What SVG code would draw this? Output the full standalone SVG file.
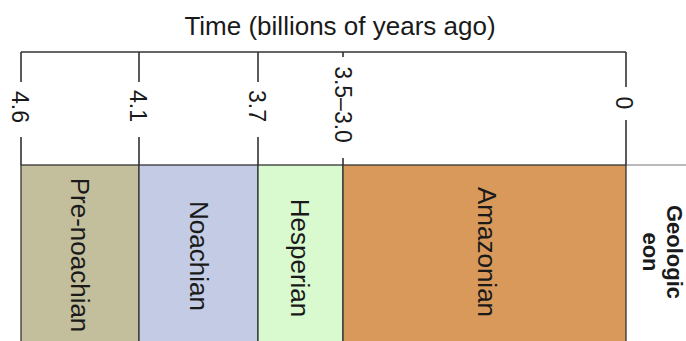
<svg xmlns="http://www.w3.org/2000/svg" width="686" height="341" viewBox="0 0 686 341">
<style>
text{font-family:"Liberation Sans",Arial,Helvetica,sans-serif;fill:#1a1a1a}
.title{font-size:26px}
.tick{font-size:23px}
.eon{font-size:26px}
.hdr{font-size:22px;font-weight:bold}
.ax{stroke:#333;stroke-width:1.6;fill:none}
.box{stroke:#333;stroke-width:1.3}
</style>
<rect width="686" height="341" fill="#fff"/>
<g id="title"><text class="title" x="340" y="35" text-anchor="middle">Time (billions of years ago)</text></g>
<g id="connectors">
<path class="ax" d="M21,52H626"/>
<path class="ax" d="M21,52V82M21,137V165"/>
<path class="ax" d="M139,52V82M139,137V165"/>
<path class="ax" d="M258,52V82M258,137V165"/>
<path class="ax" d="M343,52V57M343,158V165"/>
<path class="ax" d="M626,52V87M626,120V165"/>
<path d="M626,165H686" stroke="#777" stroke-width="1.2"/>
</g>
<g id="ticks">
<text class="tick" transform="translate(12,107) rotate(90)" text-anchor="middle">4.6</text>
<text class="tick" transform="translate(130,106) rotate(90)" text-anchor="middle">4.1</text>
<text class="tick" transform="translate(249,106) rotate(90)" text-anchor="middle">3.7</text>
<text class="tick" transform="translate(335,104.5) rotate(90)" text-anchor="middle">3.5–3.0</text>
<text class="tick" transform="translate(616,103) rotate(90)" text-anchor="middle">0</text>
</g>
<g id="pre-noachian">
<rect class="box" x="21" y="165" width="118" height="182" fill="#c3bf9d"/>
<text class="eon" transform="translate(70.7,255) rotate(90)" text-anchor="middle">Pre-noachian</text>
</g>
<g id="noachian">
<rect class="box" x="139" y="165" width="119" height="182" fill="#c3cce4"/>
<text class="eon" transform="translate(189.7,256) rotate(90)" text-anchor="middle">Noachian</text>
</g>
<g id="hesperian">
<rect class="box" x="258" y="165" width="85" height="182" fill="#d9f9cf"/>
<text class="eon" transform="translate(291.4,258) rotate(90)" text-anchor="middle">Hesperian</text>
</g>
<g id="amazonian">
<rect class="box" x="343" y="165" width="283" height="182" fill="#d8995a"/>
<text class="eon" transform="translate(478,252) rotate(90)" text-anchor="middle">Amazonian</text>
</g>
<g id="geologic-eon">
<text class="hdr" transform="translate(667,252) rotate(90)" text-anchor="middle">Geologic</text>
<text class="hdr" transform="translate(643,252) rotate(90)" text-anchor="middle">eon</text>
</g>
</svg>
